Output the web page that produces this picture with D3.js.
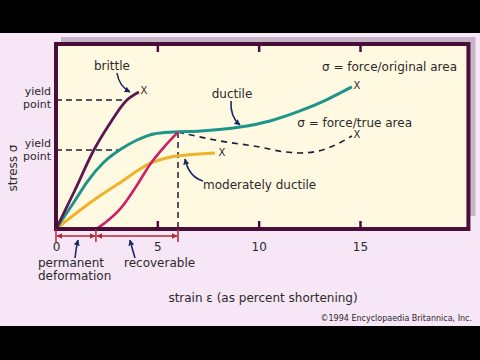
<!DOCTYPE html>
<html><head><meta charset="utf-8">
<script src="https://cdn.jsdelivr.net/npm/d3@7/dist/d3.min.js"></script>
<style>body{margin:0;background:#000}svg{display:block}text{font-family:"DejaVu Sans",sans-serif;fill:#2a2a2a}</style>
</head><body><svg id="c" width="480" height="360"></svg>
<script>
// ---- data (strain in %, stress in arbitrary units 0-100) ----
const xTicks = [0, 5, 10, 15];
const brittleStrain = [0, 0.89, 1.87, 2.61, 3.50, 4.09];
const brittleStress = [0, 20.0, 42.7, 56.2, 69.7, 74.1];
const ductileStrain = [0, 0.89, 1.53, 2.37, 3.21, 4.0, 4.83, 5.82, 7.0, 9.08, 10.56, 12.04, 13.32, 14.60];
const ductileStress = [0, 14.6, 25.4, 36.2, 43.2, 48.1, 51.4, 52.4, 52.9, 55.1, 58.4, 63.8, 69.7, 76.8];
const trueStrain = [6.02, 8.09, 10.06, 11.2, 12.04, 12.88, 13.67, 14.6];
const trueStress = [52.4, 47.6, 44.3, 41.8, 41.1, 42.0, 44.9, 50.3];
const moderateStrain = [0, 1.53, 3.21, 4.69, 5.67, 6.46, 7.84];
const moderateStress = [0, 13.0, 25.4, 35.7, 38.9, 40.0, 41.1];
const reloadStrain = [1.97, 2.47, 3.21, 4.0, 4.69, 5.33, 6.02];
const reloadStress = [0, 3.8, 11.4, 23.8, 35.7, 44.3, 52.4];
const yieldBrittle = [3.5, 69.7];
const yieldDuctile = [3.21, 42.7];
const permanentRange = [0, 1.97];
const recoverableRange = [1.97, 6.02];

const svg = d3.select("#c");
const x = d3.scaleLinear().domain([0, 15]).range([56, 360]);
const y = d3.scaleLinear().domain([0, 100]).range([229, 44]);
const zip = (a, b) => a.map((v, i) => [v, b[i]]);
const line = d3.line().x(d => x(d[0])).y(d => y(d[1])).curve(d3.curveMonotoneX);

// background
svg.append("rect").attr("x",0).attr("y",0).attr("width",480).attr("height",360).attr("fill","#f6e6f6");
svg.append("rect").attr("x",0).attr("y",0).attr("width",480).attr("height",33).attr("fill","#000");
svg.append("rect").attr("x",0).attr("y",326).attr("width",480).attr("height",34).attr("fill","#000");

const defs = svg.append("defs");
function marker(id, color) {
  defs.append("marker").attr("id", id).attr("viewBox","0 0 10 10").attr("refX",9).attr("refY",5)
    .attr("markerWidth",6).attr("markerHeight",6).attr("orient","auto-start-reverse")
    .attr("markerUnits","userSpaceOnUse")
    .append("path").attr("d","M0,0L10,5L0,10z").attr("fill",color);
}
marker("navy", "#1c2a66");
marker("red", "#b02838");

// frame with shadow
const X0 = x(0), X1 = x(20.35), Y0 = y(0), Y1 = y(100);
svg.append("rect").attr("x",X0+5).attr("y",Y1-7).attr("width",X1-X0+2).attr("height",Y0-Y1-6).attr("fill","#c4b6c8");
svg.append("rect").attr("x",X0).attr("y",Y1).attr("width",X1-X0).attr("height",Y0-Y1)
  .attr("fill","#fff9e2");

const frameColor = "#4a0f36";

// yield dashed lines
const dash = "#1e1e3c";
svg.append("line").attr("x1",x(0)).attr("x2",x(yieldBrittle[0])).attr("y1",y(yieldBrittle[1])).attr("y2",y(yieldBrittle[1]))
  .attr("stroke",dash).attr("stroke-width",1.5).attr("stroke-dasharray","6,4");
svg.append("line").attr("x1",x(0)).attr("x2",x(yieldDuctile[0])).attr("y1",y(yieldDuctile[1])).attr("y2",y(yieldDuctile[1]))
  .attr("stroke",dash).attr("stroke-width",1.5).attr("stroke-dasharray","6,4");
svg.append("line").attr("x1",x(recoverableRange[1])).attr("x2",x(recoverableRange[1])).attr("y1",y(reloadStress[reloadStress.length-1])).attr("y2",y(0))
  .attr("stroke",dash).attr("stroke-width",1.5).attr("stroke-dasharray","6,4");
// true area dashed curve
svg.append("path").attr("d", line(zip(trueStrain, trueStress))).attr("fill","none")
  .attr("stroke",dash).attr("stroke-width",1.6).attr("stroke-dasharray","6,5");

// curves
svg.append("path").attr("d", line(zip(moderateStrain, moderateStress))).attr("fill","none").attr("stroke","#f0b228").attr("stroke-width",3);
svg.append("path").attr("d", line(zip(ductileStrain, ductileStress))).attr("fill","none").attr("stroke","#1e958a").attr("stroke-width",3);
svg.append("path").attr("d", line(zip(reloadStrain, reloadStress))).attr("fill","none").attr("stroke","#cc1f68").attr("stroke-width",2.6);
svg.append("path").attr("d", line(zip(brittleStrain, brittleStress))).attr("fill","none").attr("stroke","#5c1650").attr("stroke-width",2.8);

// frame border
svg.append("rect").attr("x",X0).attr("y",Y1).attr("width",X1-X0).attr("height",Y0-Y1)
  .attr("fill","none").attr("stroke",frameColor).attr("stroke-width",4);

// axes
const bottomAxis = svg.append("g").attr("transform",`translate(0,${Y0})`)
  .call(d3.axisBottom(x).tickValues(xTicks).tickSize(-8).tickPadding(13).tickFormat(d3.format("d")));
bottomAxis.select(".domain").remove();
bottomAxis.selectAll(".tick line").attr("stroke",frameColor).attr("stroke-width",2.5);
bottomAxis.selectAll(".tick").filter(d => d === 0).select("line").remove();
bottomAxis.selectAll("text").attr("font-size",12).attr("fill","#2a2a2a").attr("font-family","DejaVu Sans");
const topAxis = svg.append("g").attr("transform",`translate(0,${Y1})`)
  .call(d3.axisTop(x).tickValues(xTicks.slice(1)).tickSize(-8).tickFormat(""));
topAxis.select(".domain").remove();
topAxis.selectAll(".tick line").attr("stroke",frameColor).attr("stroke-width",2.5);

// bottom deformation arrows
const red = "#b02838";
[permanentRange[0], permanentRange[1], recoverableRange[1]].forEach(v => {
  svg.append("line").attr("x1",x(v)).attr("x2",x(v)).attr("y1",Y0).attr("y2",Y0+13).attr("stroke",red).attr("stroke-width",1.5);
});
[permanentRange, recoverableRange].forEach(r => {
  svg.append("line").attr("x1",x(r[0])+1).attr("x2",x(r[1])-1).attr("y1",Y0+7).attr("y2",Y0+7)
    .attr("stroke",red).attr("stroke-width",1.5).attr("marker-start","url(#red)").attr("marker-end","url(#red)");
});

// text helper
function txt(s, px, py, opts = {}) {
  return svg.append("text").attr("x",px).attr("y",py).attr("font-size",opts.size || 12)
    .attr("text-anchor",opts.anchor || "start").attr("dominant-baseline","middle").text(s);
}
function arrow(d) {
  svg.append("path").attr("d",d).attr("fill","none").attr("stroke","#1c2a66").attr("stroke-width",1.6).attr("marker-end","url(#navy)");
}

txt("brittle", 112, 66, {anchor:"middle"});
arrow("M117,73 Q119,86 130,92");
txt("X", 144, 91, {size:10, anchor:"middle"});
txt("yield", 51, 92, {anchor:"end", size:11});
txt("point", 51, 105, {anchor:"end", size:11});
txt("yield", 51, 144, {anchor:"end", size:11});
txt("point", 51, 157, {anchor:"end", size:11});
svg.append("text").attr("transform","translate(13,168) rotate(-90)").attr("text-anchor","middle")
  .attr("dominant-baseline","middle").attr("font-size",12).text("stress σ");
txt("ductile", 232, 94, {anchor:"middle"});
arrow("M231,101 Q230,117 240,125");
txt("σ = force/original area", 457, 67, {anchor:"end"});
txt("X", 357, 86, {size:10, anchor:"middle"});
txt("σ = force/true area", 412, 123, {anchor:"end"});
txt("X", 357, 135, {size:10, anchor:"middle"});
txt("X", 222, 153, {size:10, anchor:"middle"});
txt("moderately ductile", 203, 185);
arrow("M203,181 Q189,177 185,159");
arrow("M75,258 Q76,248 78,240");
arrow("M135,258 Q132,248 130,240");
txt("permanent", 38, 263);
txt("deformation", 38, 276);
txt("recoverable", 124, 263);
txt("strain ε (as percent shortening)", 263, 298, {anchor:"middle"});
txt("©1994 Encyclopaedia Britannica, Inc.", 472, 318, {size:8, anchor:"end"});
</script></body></html>
